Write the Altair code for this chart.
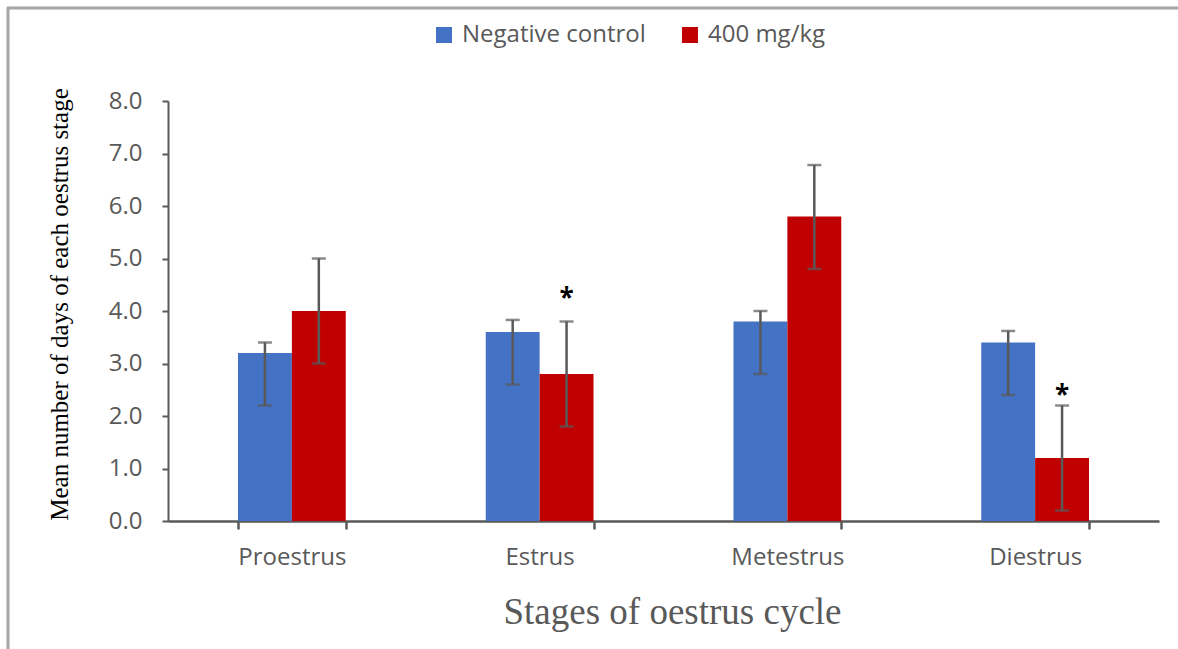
import altair as alt
import pandas as pd

stages = ["Proestrus", "Estrus", "Metestrus", "Diestrus"]
groups = ["Negative control", "400 mg/kg"]
control_mean = [3.2, 3.6, 3.8, 3.4]
control_low = [2.2, 2.6, 2.8, 2.4]
control_high = [3.4, 3.83, 4.0, 3.62]
dose_mean = [4.0, 2.8, 5.8, 1.2]
dose_low = [3.0, 1.8, 4.8, 0.2]
dose_high = [5.0, 3.8, 6.78, 2.2]
star_stage = ["Estrus", "Diestrus"]
star_group = ["400 mg/kg", "400 mg/kg"]
star_y = [4.22, 2.39]
colors = ["#4472C4", "#C00000"]

rows = []
for i, s in enumerate(stages):
    rows.append({"stage": s, "group": groups[0], "mean": control_mean[i], "lo": control_low[i], "hi": control_high[i]})
    rows.append({"stage": s, "group": groups[1], "mean": dose_mean[i], "lo": dose_low[i], "hi": dose_high[i]})
df = pd.DataFrame(rows)
stars = pd.DataFrame({"stage": star_stage, "group": star_group, "y": star_y, "t": ["*", "*"]})

SANS = "Open Sans"
SERIF = "Liberation Serif"
GREY = "#595959"

x_enc = alt.X("stage:N", sort=stages,
              scale=alt.Scale(paddingInner=0.565, paddingOuter=0.2825),
              axis=alt.Axis(title="Stages of oestrus cycle", tickBand="extent",
                            labelAngle=0, labelFont=SANS, labelFontSize=24, labelColor=GREY,
                            labelPadding=16, tickSize=8, tickWidth=2.5, tickColor=GREY,
                            domainColor=GREY, domainWidth=2.5,
                            titleFont=SERIF, titleFontSize=37, titleFontWeight="normal",
                            titleColor=GREY, titleX=504, titleY=91, titleBaseline="middle",
                            titleAlign="center"))
xo_enc = alt.XOffset("group:N", sort=groups, scale=alt.Scale(paddingInner=0, paddingOuter=0))
y_scale = alt.Scale(domain=[0, 8], nice=False)

bars = alt.Chart(df).mark_bar().encode(
    x=x_enc,
    xOffset=xo_enc,
    y=alt.Y("mean:Q", scale=y_scale,
            axis=alt.Axis(title="Mean number of days of each oestrus stage", values=list(range(9)),
                          format=".1f", grid=False, labelFont=SANS, labelFontSize=24,
                          labelColor=GREY, labelPadding=20, tickSize=6, tickWidth=2,
                          tickColor=GREY, domainColor=GREY, domainWidth=2,
                          titleFont=SERIF, titleFontSize=25, titleFontWeight="normal",
                          titleColor="#000000", titleAngle=-90, titleX=-109, titleY=203,
                          titleBaseline="middle", titleAlign="center")),
    color=alt.Color("group:N", sort=groups, scale=alt.Scale(domain=groups, range=colors),
                    legend=alt.Legend(title=None, orient="none", direction="horizontal",
                                      legendX=264, legendY=-78, symbolType="square",
                                      symbolSize=256, symbolStrokeWidth=0, labelFont=SANS,
                                      labelFontSize=24, labelColor=GREY, labelOffset=6,
                                      labelLimit=0, columnPadding=32)),
)

err = alt.Chart(df).mark_rule(color=GREY, strokeWidth=2.5).encode(
    x=alt.X("stage:N", sort=stages), xOffset=xo_enc,
    y=alt.Y("lo:Q", scale=y_scale), y2="hi:Q")
cap_hi = alt.Chart(df).mark_tick(color=GREY, size=14, thickness=2.5).encode(
    x=alt.X("stage:N", sort=stages), xOffset=xo_enc, y=alt.Y("hi:Q", scale=y_scale))
cap_lo = alt.Chart(df).mark_tick(color=GREY, size=14, thickness=2.5).encode(
    x=alt.X("stage:N", sort=stages), xOffset=xo_enc, y=alt.Y("lo:Q", scale=y_scale))
star = alt.Chart(stars).mark_text(font=SANS, fontSize=26, fontWeight="bold", color="#000000",
                                  baseline="middle").encode(
    x=alt.X("stage:N", sort=stages), xOffset=alt.XOffset("group:N", sort=groups),
    y=alt.Y("y:Q", scale=y_scale), text="t:N")

frame_top = alt.Chart(pd.DataFrame({"a": [0]})).mark_rule(color="#A6A6A6", strokeWidth=3).encode(
    x=alt.value(-161), x2=alt.value(1010), y=alt.value(-93))
frame_left = alt.Chart(pd.DataFrame({"a": [0]})).mark_rule(color="#A6A6A6", strokeWidth=3).encode(
    x=alt.value(-160), y=alt.value(-94), y2=alt.value(560))

chart = alt.layer(frame_top, frame_left, bars, err, cap_hi, cap_lo, star).properties(
    width=991, height=420,
    background="white",
    autosize=alt.AutoSizeParams(type="none"),
    padding={"left": 168, "top": 101, "right": 19, "bottom": 128},
).configure_view(strokeWidth=0, stroke="transparent")

chart.save("out.html", embed_options={"renderer": "svg", "actions": False})
